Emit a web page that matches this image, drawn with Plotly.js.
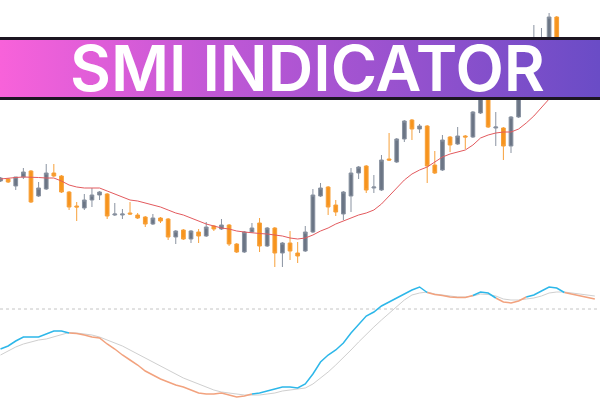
<!DOCTYPE html>
<html>
<head>
<meta charset="utf-8">
<script src="https://cdn.plot.ly/plotly-3.0.1.min.js"></script>
<style>
  html, body { margin: 0; padding: 0; background: #ffffff; }
  #wrap { position: relative; width: 600px; height: 400px; overflow: hidden; }
  #chart { position: absolute; left: 0; top: 0; width: 600px; height: 400px; }
  #banner {
    position: absolute; left: 0; top: 37px; width: 600px; height: 63px;
    box-sizing: border-box;
    border-top: 3px solid #1c1622; border-bottom: 3px solid #1c1622;
    background: linear-gradient(90deg, #f862da 0%, #c258d6 35%, #9a52cf 65%, #6a4cc6 100%);
    z-index: 10;
  }
  #title {
    position: absolute; left: 0; top: 0; width: 600px; height: 57px;
    display: flex; align-items: center; justify-content: center;
    color: #ffffff; font-family: Inter, "Open Sans", sans-serif; font-weight: 600;
    font-size: 63px; line-height: 57px; white-space: nowrap;
    padding-left: 15px; box-sizing: border-box;
  }
</style>
</head>
<body>
<div id="wrap">
  <div id="chart"></div>
  <div id="banner"><div id="title">SMI INDICATOR</div></div>
</div>
<script>
// ---- price candles ----
var open  = [319,321,314,323,329,304,311,327,324,308, 294,292,300,305,306,285,285,287,285,283,
             276,282,281,263,270,261,268,264,274,271, 275,256,248,268,277,254,272,247,257,247,
             249,268,304,313,295,286,304,327,334,312, 310,341,338,361,380,371,374,335,330,363,
             356,364,363,387,408,372,372,354,383,415, 438,445,450,483,455,438,448,430,438];
var high  = [323,322,323,332,330,318,336,336,325,309, 298,306,312,309,307,297,291,298,287,284,
             286,283,282,270,271,270,271,278,275,281, 276,257,269,277,282,273,273,258,269,258,
             274,311,317,314,300,309,332,334,335,325, 345,367,362,380,381,376,375,349,365,364,
             373,365,389,414,412,388,373,384,420,445, 475,472,487,484,458,452,450,444,442];
var low   = [318,317,310,321,297,303,310,323,307,290, 279,290,293,300,281,284,281,285,281,273,
             275,277,260,256,260,257,257,263,269,270, 254,247,247,267,248,253,233,233,240,237,
             248,267,303,285,284,280,288,321,307,307, 309,339,337,358,360,367,317,326,329,348,
             355,351,362,386,372,354,340,347,382,412, 436,442,448,452,436,435,428,427,423];
var close = [322,318,323,328,298,312,327,324,308,293, 293,300,305,308,284,286,286,286,282,276,
             282,279,263,269,261,269,264,273,271,275, 256,248,268,272,254,272,247,257,249,244,
             268,305,312,293,288,308,327,333,310,313, 340,340,361,379,371,374,334,327,360,355,
             364,363,388,410,373,373,354,383,415,440, 460,462,483,455,438,448,430,440,425];
// moving average on price
var ma    = [321,322,322.5,323,323,322.5,322,322,319,315, 313,312,312,312,309,306,303,300,299,297,
             295,293,290,287,285,282,279,276,274,272, 271,269,268,267,266.5,266,265,264,262,261,
             262,265,269,272,276,279,282,285,287,290, 296,304,311,320,326,330,333,338,343,346,
             348,350,355,362,365,367,368,368,371,377, 384,392,401,410,418,425,430,434,438];
// SMI oscillator
var smi    = [-40,-37,-32,-28,-28,-28,-25,-22,-22,-24, -24.5,-26,-28,-29,-35,-40,-46,-51,-56,-62,
              -66,-70,-73,-76,-78,-81,-84,-85,-85,-84, -86,-88,-87,-85,-84,-82,-80,-78,-78,-79,
              -75,-65,-53,-46,-41,-34,-24,-16,-7,-3, 3,7,11,15,19,22,16.5,14.5,13.5,12,
              11.5,11.5,13.5,17,16,11,7,6,8,12, 14,18,22,21,16.5,15,13,12,10];
var signal = [-46,-42,-38,-35,-33,-31,-30,-28,-26,-23.5, -24,-25,-26,-28,-31,-34,-37,-41,-45,-49,
              -53,-57,-61,-65,-69,-72,-75,-78,-81,-83, -84,-85,-86,-86,-86,-85,-84,-82,-81,-80,
              -79,-75,-69,-63,-56,-49,-41,-33,-25,-18, -11,-4,3,9,14,16,17,15,14,13,
              12,12,13,15,14.5,13,10,9,9,10, 11,13,16,17,17,16,15,14,13];

var x = open.map(function(_, i){ return i; });
var up = smi.map(function(v, i){ return v >= signal[i]; });
var smiUp = smi.map(function(v, i){ return (up[i] || (i > 0 && up[i-1])) ? v : null; });
var smiDn = smi.map(function(v, i){ return (!up[i] || (i > 0 && !up[i-1])) ? v : null; });

var traces = [
  {
    type: 'candlestick', x: x, open: open, high: high, low: low, close: close,
    xaxis: 'x', yaxis: 'y',
    increasing: { line: { color: '#8a93a1', width: 1 }, fillcolor: '#6b7585' },
    decreasing: { line: { color: '#f7a03a', width: 1 }, fillcolor: '#f7941d' },
    hoverinfo: 'skip', showlegend: false
  },
  {
    type: 'scatter', mode: 'lines', x: x, y: ma, xaxis: 'x', yaxis: 'y',
    line: { color: '#e35a5e', width: 1 }, hoverinfo: 'skip', showlegend: false
  },
  {
    type: 'scatter', mode: 'lines', x: x, y: signal, xaxis: 'x', yaxis: 'y2',
    line: { color: '#cfcfcf', width: 1 }, hoverinfo: 'skip', showlegend: false
  },
  {
    type: 'scatter', mode: 'lines', x: x, y: smiDn, xaxis: 'x', yaxis: 'y2',
    line: { color: '#f2a27e', width: 1.5 }, connectgaps: false, hoverinfo: 'skip', showlegend: false
  },
  {
    type: 'scatter', mode: 'lines', x: x, y: smiUp, xaxis: 'x', yaxis: 'y2',
    line: { color: '#2db7e9', width: 1.5 }, connectgaps: false, hoverinfo: 'skip', showlegend: false
  }
];

var hidden = { showgrid: false, zeroline: false, showticklabels: false, showline: false, ticks: '', fixedrange: true };

var layout = {
  width: 600, height: 400,
  margin: { l: 0, r: 0, t: 0, b: 0, pad: 0 },
  paper_bgcolor: '#ffffff', plot_bgcolor: '#ffffff',
  showlegend: false,
  xaxis: Object.assign({}, hidden, { range: [-0.066, 78.68], rangeslider: { visible: false } }),
  yaxis: Object.assign({}, hidden, { range: [100, 500] }),
  yaxis2: Object.assign({}, hidden, { range: [-91, 309], overlaying: 'y' }),
  shapes: [
    { type: 'line', xref: 'paper', x0: 0, x1: 1, yref: 'y2', y0: 0, y1: 0,
      line: { color: '#c4c4c4', width: 1, dash: 'dot' }, layer: 'below' }
  ]
};

Plotly.newPlot('chart', traces, layout, { staticPlot: true, displayModeBar: false });
</script>
</body>
</html>
